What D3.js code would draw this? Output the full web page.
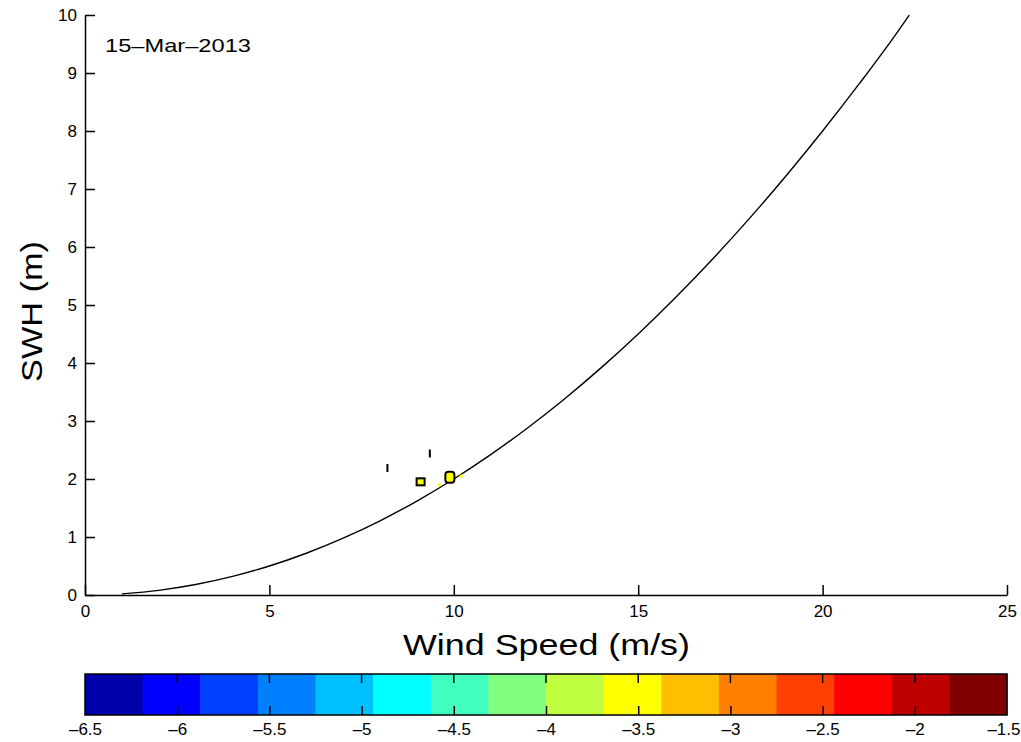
<!DOCTYPE html>
<html>
<head>
<meta charset="utf-8">
<script src="https://cdn.jsdelivr.net/npm/d3@7"></script>
<style>
  body { margin: 0; background: #fff; }
  svg text { font-family: "Liberation Sans", Arial, sans-serif; fill: #000; }
</style>
</head>
<body>
<div id="chart"></div>
<script>
// curve values (wind speed vs SWH)
var curveU = [1, 2, 3, 4, 5, 6, 7, 8, 9, 10, 11, 12, 13, 14, 15, 16, 17, 18, 19, 20, 21, 22, 22.35];
var curveH = [0.02, 0.08, 0.18, 0.32, 0.5, 0.72, 0.98, 1.28, 1.62, 2.0, 2.42, 2.88, 3.38, 3.92, 4.5, 5.12, 5.78, 6.48, 7.22, 8.0, 8.82, 9.68, 10.0];

// scattered markers near 10 m/s
var markU = [8.2, 9.35, 9.1, 9.88];
var markH = [2.19, 2.44, 1.96, 2.04];
var markType = ['tick', 'tick', 'box', 'ring'];
var dotU = [9.6, 10.2];
var dotH = [1.9, 2.05];

var xTicks = [0, 5, 10, 15, 20, 25];
var yTicks = [0, 1, 2, 3, 4, 5, 6, 7, 8, 9, 10];

// colorbar
var cbColors = ['#0000aa', '#0000ff', '#0040ff', '#0080ff', '#00bfff', '#00ffff', '#40ffbf', '#80ff80',
                '#bfff40', '#ffff00', '#ffbf00', '#ff8000', '#ff4000', '#ff0000', '#bf0000', '#800000'];
var cbTicks = [-6.5, -6, -5.5, -5, -4.5, -4, -3.5, -3, -2.5, -2, -1.5];
var dateLabel = '15\u2013Mar\u20132013';

var width = 1021, height = 742;
var svg = d3.select('#chart').append('svg')
  .attr('width', width).attr('height', height);

var x = d3.scaleLinear().domain([0, 25]).range([85, 1007]);
var y = d3.scaleLinear().domain([0, 10]).range([595, 15]);

function fmt(v) { return String(v).replace('-', '\u2013'); }

// axes (ticks point inward)
var xAxis = svg.append('g').attr('transform', 'translate(0,' + y(0) + ')')
  .call(d3.axisBottom(x).tickValues(xTicks).tickSizeInner(-10).tickSizeOuter(0).tickPadding(8).tickFormat(fmt));
var yAxis = svg.append('g').attr('transform', 'translate(' + x(0) + ',0)')
  .call(d3.axisLeft(y).tickValues(yTicks).tickSizeInner(-10).tickSizeOuter(0).tickPadding(8).tickFormat(fmt));
[xAxis, yAxis].forEach(function(a) {
  a.select('.domain').attr('stroke', '#000').attr('stroke-width', 1.5);
  a.selectAll('.tick line').attr('stroke', '#000').attr('stroke-width', 1.5);
  a.selectAll('.tick text').style('font-size', '17px').attr('fill', '#000');
});
xAxis.selectAll('.tick text').attr('dy', '0.85em');

// curve
var line = d3.line()
  .x(function(d, i) { return x(curveU[i]); })
  .y(function(d, i) { return y(curveH[i]); })
  .curve(d3.curveMonotoneX);
svg.append('path').datum(curveU)
  .attr('d', line).attr('fill', 'none')
  .attr('stroke', '#000').attr('stroke-width', 1.4);

// markers
markU.forEach(function(u, i) {
  var cx = x(u), cy = y(markH[i]);
  if (markType[i] === 'tick') {
    svg.append('rect').attr('x', cx - 1).attr('y', cy - 4).attr('width', 2).attr('height', 8).attr('fill', '#000');
  } else if (markType[i] === 'box') {
    svg.append('rect').attr('x', cx - 4).attr('y', cy - 3).attr('width', 8).attr('height', 7)
      .attr('fill', '#ffff00').attr('stroke', '#000').attr('stroke-width', 2);
  } else {
    svg.append('rect').attr('x', cx - 4).attr('y', cy - 5).attr('width', 9).attr('height', 11).attr('rx', 3)
      .attr('fill', '#ffff00').attr('stroke', '#000').attr('stroke-width', 2);
  }
});
svg.selectAll('.dot').data(dotU).enter().append('rect')
  .attr('x', function(d) { return x(d) - 1.5; })
  .attr('y', function(d, i) { return y(dotH[i]) - 1.5; })
  .attr('width', 3).attr('height', 3).attr('fill', '#ffff00');

// labels
svg.append('text').attr('x', 105).attr('y', 52).style('font-size', '19px')
  .attr('textLength', 146).attr('lengthAdjust', 'spacingAndGlyphs').text(dateLabel);
svg.append('text').attr('x', 403).attr('y', 655)
  .style('font-size', '30px').attr('textLength', 287).attr('lengthAdjust', 'spacingAndGlyphs')
  .text('Wind Speed (m/s)');
svg.append('text').attr('transform', 'translate(42,' + (y(5) + 77) + ') rotate(-90)')
  .style('font-size', '30px').attr('textLength', 141).attr('lengthAdjust', 'spacingAndGlyphs')
  .text('SWH (m)');

// colorbar
var cbTop = 674, cbBottom = 715;
var cbx = d3.scaleLinear().domain([-6.5, -1.5]).range([85, 1007]);
var step = 5 / cbColors.length;
svg.selectAll('.cb').data(cbColors).enter().append('rect')
  .attr('x', function(d, i) { return cbx(-6.5 + i * step); })
  .attr('y', cbTop)
  .attr('width', function(d, i) { return cbx(-6.5 + (i + 1) * step) - cbx(-6.5 + i * step) + 0.5; })
  .attr('height', cbBottom - cbTop)
  .attr('fill', function(d) { return d; });
svg.append('rect').attr('x', cbx(-6.5)).attr('y', cbTop)
  .attr('width', cbx(-1.5) - cbx(-6.5)).attr('height', cbBottom - cbTop)
  .attr('fill', 'none').attr('stroke', '#000').attr('stroke-width', 1.5);
var cbAxis = svg.append('g').attr('transform', 'translate(0,' + cbBottom + ')')
  .call(d3.axisBottom(cbx).tickValues(cbTicks).tickSize(-9).tickPadding(8).tickFormat(fmt));
cbAxis.select('.domain').remove();
cbAxis.selectAll('.tick line').attr('stroke', '#000').attr('stroke-width', 1.5)
  .filter(function(d, i) { return i === 0 || i === cbTicks.length - 1; }).remove();
cbAxis.selectAll('.tick text').style('font-size', '17px').attr('fill', '#000');
cbAxis.selectAll('.tick text').filter(function(d) { return d === -1.5; })
  .attr('text-anchor', 'end').attr('dx', 13);
svg.append('g').selectAll('line').data(cbTicks.slice(1, -1)).enter().append('line')
  .attr('x1', function(d) { return cbx(d); }).attr('x2', function(d) { return cbx(d); })
  .attr('y1', cbTop).attr('y2', cbTop + 9)
  .attr('stroke', '#000').attr('stroke-width', 1.5);
</script>
</body>
</html>
